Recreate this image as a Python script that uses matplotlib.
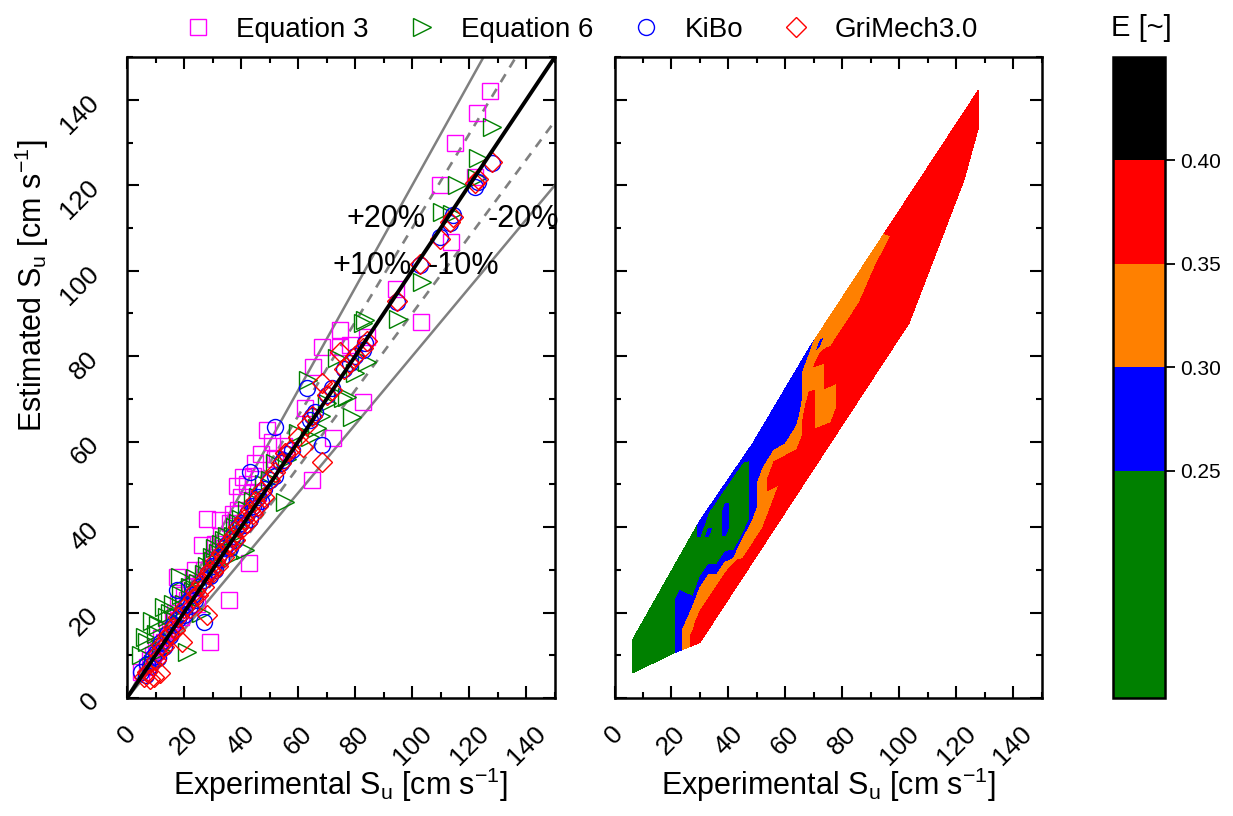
import numpy as np
import matplotlib
matplotlib.use('Agg')
import matplotlib.pyplot as plt
from matplotlib.ticker import MultipleLocator

plt.rcParams['font.family'] = ['Liberation Sans', 'DejaVu Sans']
plt.rcParams['mathtext.fontset'] = 'custom'
plt.rcParams['mathtext.rm'] = 'Liberation Sans'
plt.rcParams['mathtext.it'] = 'Liberation Sans:italic'
plt.rcParams['mathtext.default'] = 'regular'

# ---------------- data: left panel ----------------
eq3_x = [5, 7, 8, 9, 10, 11, 12, 13, 14, 15, 16, 17, 17.5, 18, 19, 20, 21, 22, 23, 24, 24.5, 26.3, 27, 28,
         29.2, 30, 31, 32.7, 33, 34, 35.6, 36, 37, 38.4, 39, 40, 40.8, 42, 42.7, 44, 45, 46, 47, 49, 50.7,
         52, 55, 62.4, 64.7, 65.3, 68.2, 72.3, 74.7, 74.7, 78.2, 82.8, 84, 94.3, 102.9, 109.7, 113.5, 115,
         122, 122.8, 127.2]
eq3_y = [6, 7.3, 9, 10, 12, 11, 14, 13, 16, 16, 18, 20, 28.4, 22, 19, 24, 23, 26, 27, 30, 22, 35.8, 30, 42,
         13.2, 33, 36, 41.6, 38, 35, 22.9, 41, 43, 49.5, 44, 47, 51.8, 50, 31.5, 52, 55, 48, 57, 62.7, 60,
         56, 59, 67.8, 51, 77.5, 82.2, 60.8, 86.1, 82.2, 82.6, 69.3, 84.6, 95.6, 88.1, 120.1, 106.8, 129.8,
         122, 136.8, 142.1]

eq6_x = [5, 6.4, 7, 8.9, 9, 10, 11, 12, 12.8, 14, 15, 16, 17, 18.7, 19, 20, 21, 22, 23, 24, 25, 26, 27, 28,
         29.8, 30, 31, 32, 33, 34, 35, 36, 37, 38, 39, 40, 41.5, 42, 44, 46, 48, 50, 52, 55.4, 56, 60, 63.5,
         64, 66.5, 68, 70, 73.5, 75.8, 77, 78.8, 80, 82.8, 84, 83.4, 95.1, 103.3, 110.3, 113.8, 115.6,
         122.6, 123.1, 127.8]
eq6_y = [10, 14.3, 13, 18, 8, 15, 17, 11, 21.4, 19, 20, 22, 18, 28.4, 24, 22, 10.8, 26, 25, 28, 27, 20, 29,
         31, 33.1, 32, 35, 34, 36, 37, 38, 33, 38, 40, 41, 42, 34.6, 44, 46, 47, 50, 51, 55, 45.9, 56, 62,
         74.4, 61, 63.1, 66, 69, 79.5, 70.1, 70.5, 65.8, 76, 87.7, 78.7, 88.5, 88.6, 97.4, 113.8, 113.3,
         120.1, 121.6, 126.3, 133.6]

kibo_x = [5, 6.5, 7, 8, 9, 10, 11, 12, 13, 14, 15, 16, 17.5, 18, 19, 20, 21, 22, 23, 24, 25, 26.9, 27, 28,
          29, 30, 31, 32, 33, 34, 35, 36, 37, 38, 39, 40, 41, 42, 43, 43.1, 44, 45, 46, 47, 48, 50, 51.9, 52,
          54, 54.8, 56, 58, 63, 64, 65, 66, 68.2, 70, 72, 76, 78.2, 80, 82.8, 83.4, 94.5, 102.7, 109.7,
          113.2, 114.4, 122, 123.1, 127.8]
kibo_y = [6, 5.5, 8, 7.5, 9.5, 10.5, 9.3, 13, 12, 15, 14.5, 17, 25.3, 18.5, 20, 19.5, 22, 21.5, 24, 23, 26,
          17.9, 27.5, 29, 28.5, 31, 30, 33, 32.5, 35, 36, 35, 38, 37, 40, 41, 40.5, 43, 42, 53, 45, 44.5, 47,
          46, 49, 51, 63.5, 52, 55, 55.7, 57, 58, 72.5, 65, 66, 67, 59.2, 71, 72.5, 77, 78.3, 80, 81.4, 83,
          92.7, 101.3, 108, 111.1, 113, 119.7, 120.8, 125.1]

gri_x = [6, 7, 8, 9.3, 10, 11, 11.6, 12, 13, 14, 15, 16, 17, 18, 19.2, 20, 22, 23, 24, 25, 26, 27, 28, 28.5,
         29, 30, 31, 32, 33, 34, 35, 36, 37, 38, 39, 40, 41, 42, 43, 44, 45, 46, 47, 48, 50, 52, 54, 55.4,
         57, 60, 61.8, 63, 65, 68.2, 68.2, 70, 72, 74.7, 76, 78, 80, 82.8, 84, 94.5, 102.7, 109.7, 113.2,
         114.4, 122, 123.1, 127.8]
gri_y = [5, 6, 4.5, 5, 9, 10.5, 5.8, 12.5, 12, 14.5, 15, 16.5, 16, 19, 13.2, 21, 21, 23.5, 25, 24, 27, 26,
         19.4, 29, 30, 29.5, 32, 31, 34, 33, 36, 35.5, 38, 37, 40, 39.5, 42, 41, 44, 43, 46, 45, 48.5, 47,
         51, 53, 55, 57.3, 58, 61, 58.8, 64, 66, 73.7, 55.3, 71, 72, 81, 77, 78.5, 80, 82, 83.5, 93, 101.5,
         107.5, 111.5, 112.5, 120.5, 121.5, 125.5]

ref_range = [0, 150]
band_solid = [1.2, 0.8]     # +-20 %
band_dash = [1.1, 0.9]      # +-10 %
band_text = ['+20%', '-20%', '+10%', '-10%']
band_text_x = [91, 138.8, 86, 117.8]
band_text_y = [112.1, 112.1, 101, 101]

# ---------------- data: right panel (E field on hull of data) ----------------
hull_up_x = [6.4, 30, 48.5, 68.4, 91.8, 127.8]
hull_up_y = [13.7, 41.5, 59.5, 81.9, 105.7, 142.2]
hull_lo_x = [6.4, 21, 30, 103.5, 122.8, 127.8]
hull_lo_y = [5.9, 10.6, 13.0, 87.8, 121.3, 133.4]
grid_x = [6.4, 15, 21, 23, 25, 27.5, 30, 33, 36, 39, 42, 45, 48.5, 52, 56, 60, 64, 68.4, 72, 76, 80, 86,
          91.8, 103.5, 122.8, 127.8]
grid_t = [0, 0.1, 0.2, 0.3, 0.4, 0.5, 0.6, 0.7, 0.8, 0.9, 1.0]
# E values, one list per grid column (from upper edge to lower edge)
E_cols = [
    [0.20, 0.20, 0.20, 0.20, 0.20, 0.20, 0.20, 0.20, 0.20, 0.20, 0.20],
    [0.20, 0.20, 0.20, 0.20, 0.20, 0.20, 0.20, 0.20, 0.20, 0.20, 0.20],
    [0.20, 0.20, 0.20, 0.20, 0.24, 0.24, 0.24, 0.24, 0.24, 0.24, 0.24],
    [0.20, 0.20, 0.20, 0.20, 0.275, 0.275, 0.275, 0.275, 0.285, 0.285, 0.285],
    [0.20, 0.20, 0.20, 0.20, 0.20, 0.275, 0.275, 0.275, 0.325, 0.325, 0.325],
    [0.20, 0.20, 0.20, 0.20, 0.20, 0.20, 0.275, 0.325, 0.325, 0.36, 0.36],
    [0.275, 0.275, 0.20, 0.20, 0.20, 0.275, 0.325, 0.325, 0.38, 0.38, 0.38],
    [0.275, 0.20, 0.275, 0.20, 0.20, 0.275, 0.325, 0.325, 0.38, 0.38, 0.38],
    [0.275, 0.20, 0.20, 0.20, 0.20, 0.20, 0.275, 0.325, 0.38, 0.38, 0.38],
    [0.275, 0.20, 0.275, 0.275, 0.275, 0.20, 0.275, 0.325, 0.38, 0.38, 0.38],
    [0.275, 0.20, 0.20, 0.20, 0.20, 0.20, 0.20, 0.275, 0.38, 0.38, 0.38],
    [0.275, 0.20, 0.20, 0.20, 0.20, 0.20, 0.20, 0.325, 0.325, 0.38, 0.38],
    [0.275, 0.275, 0.275, 0.275, 0.275, 0.275, 0.275, 0.325, 0.325, 0.38, 0.38],
    [0.275, 0.275, 0.275, 0.275, 0.325, 0.325, 0.325, 0.325, 0.325, 0.38, 0.38],
    [0.275, 0.275, 0.275, 0.275, 0.325, 0.38, 0.38, 0.325, 0.38, 0.38, 0.38],
    [0.275, 0.275, 0.275, 0.275, 0.275, 0.325, 0.38, 0.38, 0.38, 0.38, 0.38],
    [0.275, 0.275, 0.275, 0.275, 0.275, 0.325, 0.325, 0.38, 0.38, 0.38, 0.38],
    [0.275, 0.325, 0.325, 0.325, 0.38, 0.38, 0.38, 0.38, 0.38, 0.38, 0.38],
    [0.325, 0.275, 0.38, 0.325, 0.325, 0.325, 0.325, 0.325, 0.38, 0.38, 0.38],
    [0.325, 0.325, 0.325, 0.38, 0.38, 0.38, 0.325, 0.325, 0.325, 0.38, 0.38],
    [0.325, 0.325, 0.325, 0.38, 0.38, 0.38, 0.38, 0.38, 0.38, 0.38, 0.38],
    [0.325, 0.325, 0.325, 0.38, 0.38, 0.38, 0.38, 0.38, 0.38, 0.38, 0.38],
    [0.34, 0.325, 0.38, 0.38, 0.38, 0.38, 0.38, 0.38, 0.38, 0.38, 0.38],
    [0.38, 0.38, 0.38, 0.38, 0.38, 0.38, 0.38, 0.38, 0.38, 0.38, 0.38],
    [0.38, 0.38, 0.38, 0.38, 0.38, 0.38, 0.38, 0.38, 0.38, 0.38, 0.38],
    [0.38, 0.38, 0.38, 0.38, 0.38, 0.38, 0.38, 0.38, 0.38, 0.38, 0.38],
]
E_levels = [0.14, 0.25, 0.30, 0.35, 0.40, 0.45]
E_colors = ['#008000', '#0000FF', '#FF8000', '#FF0000', '#000000']
E_ticks = [0.25, 0.30, 0.35, 0.40]

axis_ticks = [0, 20, 40, 60, 80, 100, 120, 140]

# ---------------- figure ----------------
fig = plt.figure(figsize=(12.33, 8.16), dpi=100)
ax1 = fig.add_axes([0.103, 0.1446, 0.347, 0.7855])
ax2 = fig.add_axes([0.4984, 0.1446, 0.3463, 0.7855])
cax = fig.add_axes([0.9027, 0.1446, 0.0422, 0.7855])

ref = np.array(ref_range, dtype=float)
ax1.plot(ref, ref, color='black', lw=2.8, zorder=3)
for f in band_solid:
    ax1.plot(ref, f * ref, color='#808080', lw=1.8, zorder=2)
for f in band_dash:
    ax1.plot(ref, f * ref, color='#808080', lw=1.9, ls=(0, (3.5, 3)), zorder=2)

mk = dict(ls='none', mfc='none', mew=1.0)
h1, = ax1.plot(eq3_x, eq3_y, marker='s', mec='#FF00FF', ms=11.5, **mk)
h2, = ax1.plot(eq6_x, eq6_y, marker='>', mec='#008000', ms=12.5, **mk)
h3, = ax1.plot(kibo_x, kibo_y, marker='o', mec='#0000FF', ms=11.5, **mk)
h4, = ax1.plot(gri_x, gri_y, marker='D', mec='#FF0000', ms=10, **mk)

for s, tx, ty in zip(band_text, band_text_x, band_text_y):
    ax1.text(tx, ty, s, ha='center', va='center', fontsize=22, clip_on=False, zorder=5)

# right panel contour
gx = np.array(grid_x)
gt = np.array(grid_t)
up = np.interp(gx, hull_up_x, hull_up_y)
lo = np.interp(gx, hull_lo_x, hull_lo_y)
X = np.tile(gx, (len(gt), 1))
Y = up[None, :] * (1 - gt[:, None]) + lo[None, :] * gt[:, None]
E = np.array(E_cols).T
cs = ax2.contourf(X, Y, E, levels=E_levels, colors=E_colors)

for ax in (ax1, ax2):
    ax.set_xlim(0, 150)
    ax.set_ylim(0, 150)
    ax.xaxis.set_minor_locator(MultipleLocator(10))
    ax.yaxis.set_minor_locator(MultipleLocator(10))
    ax.set_xticks(axis_ticks)
    ax.set_yticks(axis_ticks)
    ax.tick_params(which='both', direction='in', top=True, right=True, width=1.5)
    ax.tick_params(which='major', length=8.5, labelsize=19, pad=17)
    ax.tick_params(which='minor', length=4)
    ax.tick_params(axis='x', labelrotation=45)
    ax.tick_params(axis='y', labelrotation=45)
    for sp in ax.spines.values():
        sp.set_linewidth(1.8)
    ax.set_xlabel(r'Experimental S$_{\mathregular{u}}$ [cm s$^{\mathregular{-1}}$]', fontsize=22)
    ax.xaxis.set_label_coords(0.5, -0.105)

ax2.tick_params(axis='y', labelleft=False)
ax1.set_ylabel(r'Estimated S$_{\mathregular{u}}$ [cm s$^{\mathregular{-1}}$]', fontsize=22)
ax1.yaxis.set_label_coords(-0.178, 0.644)

cb = fig.colorbar(cs, cax=cax, ticks=E_ticks, spacing='proportional')
cb.ax.set_yticklabels(['%.2f' % v for v in E_ticks])
cb.ax.tick_params(length=7, width=1.3, labelsize=15, direction='out')
cb.ax.minorticks_off()
cb.outline.set_linewidth(1.8)
fig.text(1141 / 1233, 1 - 28 / 816, 'E [~]', ha='center', va='center', fontsize=21)

fig.legend([h1, h2, h3, h4], ['Equation 3', 'Equation 6', 'KiBo', 'GriMech3.0'],
           loc='center', bbox_to_anchor=(581 / 1233, 1 - 30 / 816), ncol=4, frameon=False,
           fontsize=20, handlelength=1.0, handletextpad=0.9, columnspacing=1.4, borderpad=0)

fig.savefig('out.png', dpi=100)
